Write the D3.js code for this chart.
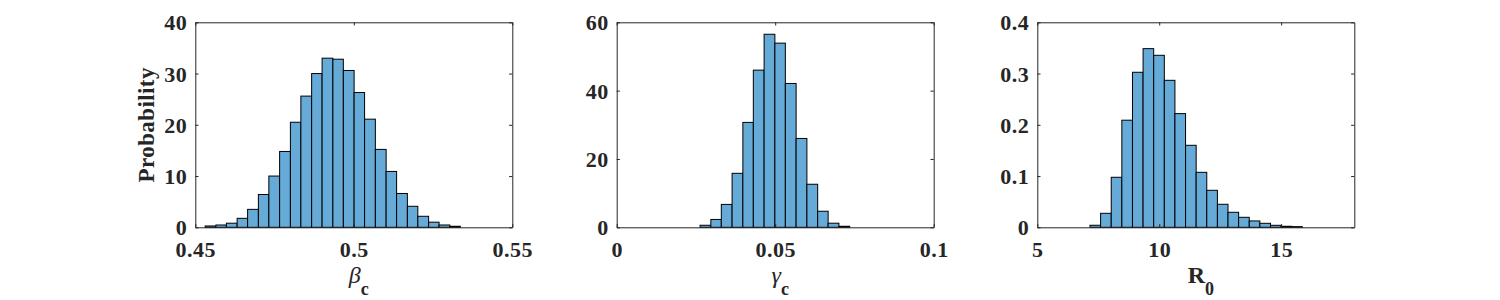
<!DOCTYPE html>
<html>
<head>
<meta charset="utf-8">
<script src="https://cdn.jsdelivr.net/npm/d3@7"></script>
<style>
html,body{margin:0;padding:0;background:#fff;}
svg{display:block;}
text{font-family:"Liberation Serif","Times New Roman",serif;fill:#262626;}
</style>
</head>
<body>
<svg id="chart" width="1500" height="300"></svg>
<script>
// ---- Data ----
const betaEdges = [0.4531,0.4565,0.4598,0.4632,0.4665,0.4699,0.4732,0.4766,0.4800,0.4833,0.4867,0.4900,0.4934,0.4967,0.5001,0.5034,0.5068,0.5102,0.5135,0.5169,0.5202,0.5236,0.5269,0.5303,0.5336];
const betaValues = [0.26,0.45,0.8,1.75,3.5,6.4,10.0,14.8,20.5,25.6,30.0,33.0,32.8,30.6,26.3,21.1,15.2,10.9,6.6,4.1,2.15,1.0,0.45,0.2];

const gammaEdges = [0.0263,0.0297,0.0330,0.0364,0.0398,0.0431,0.0465,0.0499,0.0532,0.0566,0.0600,0.0634,0.0667,0.0701,0.0735];
const gammaValues = [0.6,2.3,6.7,15.8,30.7,46.0,56.5,53.9,42.1,26.0,12.6,4.7,1.2,0.3];

const r0Edges = [7.161,7.596,8.032,8.467,8.903,9.338,9.773,10.209,10.644,11.080,11.515,11.950,12.386,12.821,13.257,13.692,14.127,14.563,14.998,15.434,15.869];
const r0Values = [0.004,0.0273,0.0976,0.209,0.3025,0.3486,0.3356,0.2868,0.2218,0.160,0.1073,0.0722,0.0449,0.0293,0.0195,0.0124,0.0078,0.0039,0.002,0.0013];

const betaXTicks = [0.45,0.5,0.55];
const betaYTicks = [0,10,20,30,40];
const gammaXTicks = [0,0.05,0.1];
const gammaYTicks = [0,20,40,60];
const r0XTicks = [5,10,15];
const r0YTicks = [0,0.1,0.2,0.3,0.4];

const panels = [
  {edges: betaEdges, values: betaValues, xDomain: [0.45,0.55], yDomain: [0,40],
   xTicks: betaXTicks, yTicks: betaYTicks, sym: "β", sub: "c", symItalic: true, ylabel: "Probability"},
  {edges: gammaEdges, values: gammaValues, xDomain: [0,0.1], yDomain: [0,60],
   xTicks: gammaXTicks, yTicks: gammaYTicks, sym: "γ", sub: "c", symItalic: true, ylabel: null},
  {edges: r0Edges, values: r0Values, xDomain: [5,18], yDomain: [0,0.4],
   xTicks: r0XTicks, yTicks: r0YTicks, sym: "R", sub: "0", symItalic: false, ylabel: null}
];

// ---- Layout ----
const panelLefts = [195.3, 616.7, 1037.3];
const PW = 317, PTOP = 22.3, PH = 205;
const axisColor = "#262626";
const barFill = "#66AAD7";
const tickLen = 3.2;
const fontSize = 22;
const serif = "'Liberation Serif','Times New Roman',serif";

const svg = d3.select("#chart");

panels.forEach((p, i) => {
  const g = svg.append("g").attr("transform", `translate(${panelLefts[i]},${PTOP})`);
  const x = d3.scaleLinear().domain(p.xDomain).range([0, PW]);
  const y = d3.scaleLinear().domain(p.yDomain).range([PH, 0]);

  const bins = p.values.map((v, k) => ({x0: p.edges[k], x1: p.edges[k + 1], v}));

  g.selectAll("rect.bar").data(bins).enter().append("rect")
    .attr("class", "bar")
    .attr("x", d => x(d.x0))
    .attr("y", d => y(d.v))
    .attr("width", d => x(d.x1) - x(d.x0))
    .attr("height", d => y(0) - y(d.v))
    .attr("fill", barFill)
    .attr("stroke", "#000")
    .attr("stroke-width", 1);

  const fmt = d => String(d);

  const xb = g.append("g").attr("transform", `translate(0,${PH})`)
    .call(d3.axisBottom(x).tickValues(p.xTicks).tickSizeInner(-tickLen).tickSizeOuter(0).tickFormat(fmt));
  const xt = g.append("g")
    .call(d3.axisTop(x).tickValues(p.xTicks).tickSizeInner(-tickLen).tickSizeOuter(0).tickFormat(""));
  const yl = g.append("g")
    .call(d3.axisLeft(y).tickValues(p.yTicks).tickSizeInner(-tickLen).tickSizeOuter(0).tickFormat(fmt));
  const yr = g.append("g").attr("transform", `translate(${PW},0)`)
    .call(d3.axisRight(y).tickValues(p.yTicks).tickSizeInner(-tickLen).tickSizeOuter(0).tickFormat(""));

  [xb, xt, yl, yr].forEach(a => {
    a.attr("font-family", serif);
    a.select(".domain").attr("stroke", axisColor).attr("stroke-width", 1);
    a.selectAll(".tick line").attr("stroke", axisColor).attr("stroke-width", 1);
    a.selectAll(".tick text")
      .attr("font-family", serif)
      .attr("font-weight", "bold")
      .attr("font-size", fontSize)
      .attr("letter-spacing", 0.5)
      .attr("fill", axisColor);
  });
  xb.selectAll(".tick text").attr("dy", null).attr("y", 29.5);
  yl.selectAll(".tick text").attr("x", -8).attr("dy", "0.34em");

  const lbl = g.append("text")
    .attr("x", PW / 2 + 5)
    .attr("y", 283 - PTOP)
    .attr("text-anchor", "middle")
    .attr("font-family", serif)
    .attr("font-size", 24);
  lbl.append("tspan")
    .attr("font-style", p.symItalic ? "italic" : "normal")
    .attr("font-weight", p.symItalic ? "normal" : "bold")
    .text(p.sym);
  lbl.append("tspan")
    .attr("font-weight", "bold")
    .attr("font-size", 18)
    .attr("dy", 12)
    .text(p.sub);

  if (p.ylabel) {
    g.append("text")
      .attr("transform", `translate(${154 - panelLefts[i]},${PH / 2}) rotate(-90)`)
      .attr("text-anchor", "middle")
      .attr("font-family", serif)
      .attr("font-weight", "bold")
      .attr("font-size", 23)
      .attr("letter-spacing", 0.4)
      .text(p.ylabel);
  }
});
</script>
</body>
</html>
